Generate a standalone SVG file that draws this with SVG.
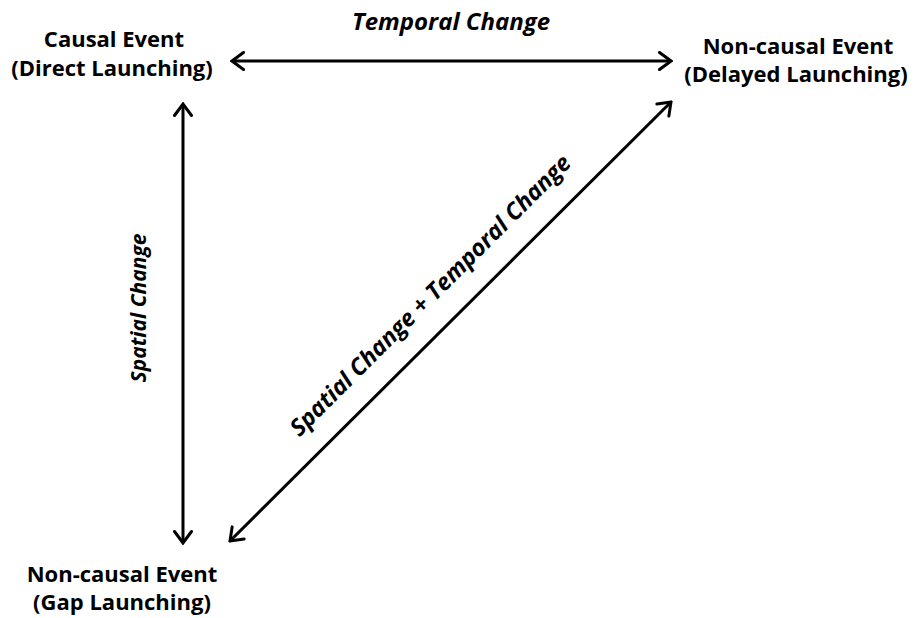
<svg xmlns="http://www.w3.org/2000/svg" width="917" height="618" viewBox="0 0 917 618">
<style>
.node{font-family:"Open Sans","Liberation Sans",sans-serif;font-weight:bold;font-size:22px;fill:#000;text-anchor:middle}
.lab{font-family:"Open Sans","Liberation Sans",sans-serif;font-style:italic;font-weight:bold;fill:#000;text-anchor:middle}
.con{stroke:#000;stroke-width:3;fill:none;marker-start:url(#ah);marker-end:url(#ah)}
</style>
<defs>
<marker id="ah" viewBox="-14 -10 16 20" markerWidth="16" markerHeight="20" markerUnits="userSpaceOnUse" orient="auto-start-reverse" refX="0" refY="0">
<path d="M-11.5,-8.5 L0,0 L-11.5,8.5" fill="none" stroke="#000" stroke-width="3" stroke-linecap="round" stroke-linejoin="miter"/>
</marker>
</defs>
<rect width="917" height="618" fill="#fff"/>
<g id="connectors">
<line class="con" x1="232" y1="61" x2="671" y2="61"/>
<line class="con" x1="183" y1="104" x2="183" y2="543"/>
<line class="con" x1="230" y1="541" x2="671" y2="102"/>
</g>
<g id="causal">
<text class="node" x="114" y="47">Causal Event</text>
<text class="node" x="112" y="76">(Direct Launching)</text>
</g>
<g id="delayed">
<text class="node" x="798" y="54">Non-causal Event</text>
<text class="node" x="796" y="82">(Delayed Launching)</text>
</g>
<g id="gap">
<text class="node" x="122" y="582">Non-causal Event</text>
<text class="node" x="122" y="610">(Gap Launching)</text>
</g>
<g id="labels">
<text class="lab" x="451" y="30" font-size="24">Temporal Change</text>
<text class="lab" transform="translate(146,308) rotate(-90)" font-size="21">Spatial Change</text>
<text class="lab" transform="translate(436,301) rotate(-45)" font-size="23.5">Spatial Change + Temporal Change</text>
</g>
</svg>
